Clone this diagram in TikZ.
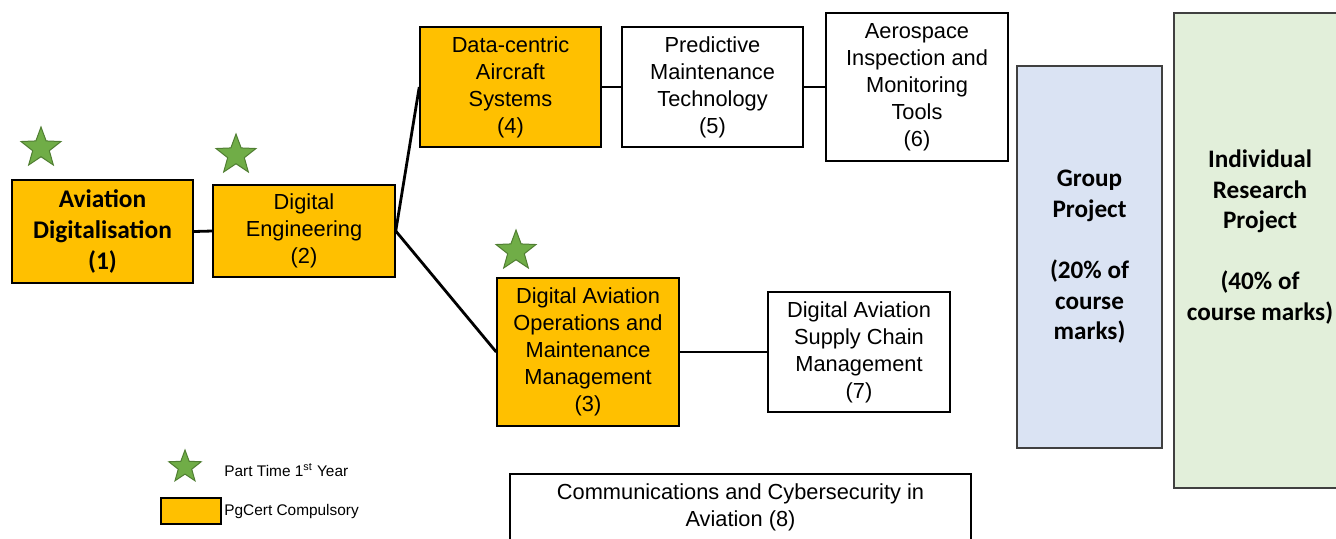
\documentclass[tikz,border=0pt]{standalone}
\usepackage{fontspec}
\setmainfont{Liberation Sans}
\newfontfamily\calibri{Carlito}
\usetikzlibrary{shapes.geometric}
\definecolor{pgorange}{HTML}{FFC000}
\definecolor{grpblue}{HTML}{DAE3F3}
\definecolor{irpgreen}{HTML}{E2EFDA}
\definecolor{stargreen}{HTML}{70AD47}
\definecolor{stardark}{HTML}{507E32}
\begin{document}
\begin{tikzpicture}[x=0.5pt,y=-0.5pt,
  sz/.style 2 args={minimum width=#1*0.5pt,minimum height=#2*0.5pt},
  module/.style={draw,rectangle,align=center,inner sep=0pt,line width=0.75pt,font=\fontsize{10.9}{13.5}\selectfont},
  core/.style={module,fill=pgorange},
  project/.style={draw=black!75,rectangle,align=center,inner sep=0pt,line width=0.75pt,font=\calibri\bfseries\fontsize{12.6}{15.3}\selectfont},
  ptstar/.style={star,star points=5,star point ratio=2.4,draw=stardark,fill=stargreen,inner sep=0pt,line width=0.5pt},
  link/.style={line width=1.4pt}]
\useasboundingbox (0,0) rectangle (1336,538);
\node[core, sz={181}{103}, font=\calibri\bfseries\fontsize{12.7}{15.5}\selectfont] (avdig) at (102.5,231.5) {Aviation\\Digitalisation\\(1)};
\node[core, sz={182}{92}] (digeng) at (304,231) {Digital\\Engineering\\(2)};
\node[core, sz={181}{120}] (datacs) at (510.5,87) {Data-centric\\Aircraft\\Systems\\(4)};
\node[module, sz={181}{120}] (predm) at (712.5,87) {Predictive\\Maintenance\\Technology\\(5)};
\node[module, sz={182}{148}] (aerotools) at (917,87) {Aerospace\\Inspection and\\Monitoring\\Tools\\(6)};
\node[core, sz={182}{148}] (daops) at (588,352) {Digital Aviation\\Operations and\\Maintenance\\Management\\(3)};
\node[module, sz={182}{120}] (supply) at (859,352) {Digital Aviation\\Supply Chain\\Management\\(7)};
\node[module, sz={461}{67}] (commsec) at (740.5,507.5) {Communications and Cybersecurity in\\Aviation (8)};
\node[project, fill=grpblue, sz={145}{382}] (grpproj) at (1089.5,257) {Group\\Project\\[15.3pt](20\% of\\course\\marks)};
\node[project, fill=irpgreen, sz={172}{475}] (irp) at (1260,250.5) {Individual\\Research\\Project\\[15.3pt](40\% of\\course marks)\\ \mbox{}};

% links
\foreach \a/\b in {avdig/digeng,digeng/datacs,digeng/daops,datacs/predm,predm/aerotools,daops/supply} {
  \draw[link] (\a.east) -- (\b.west);
}
% part time stars
\node[ptstar, minimum size=21pt] (star1) at (41,148) {};
\node[ptstar, minimum size=21pt] (star2) at (236,155) {};
\node[ptstar, minimum size=21pt] (star3) at (516,251) {};
% legend
\node[ptstar, minimum size=17pt] (keystar) at (185,467) {};
\node[draw, fill=pgorange, line width=0.75pt, sz={60}{26}] (keybox) at (191,511) {};
\node[anchor=west, inner sep=0pt, font=\fontsize{7.7}{9}\selectfont] (keystartxt) at (224,470) {Part Time 1\textsuperscript{st} Year};
\node[anchor=west, inner sep=0pt, font=\fontsize{7.7}{9}\selectfont] (keyboxtxt) at (224,511) {PgCert Compulsory};
\end{tikzpicture}
\end{document}
